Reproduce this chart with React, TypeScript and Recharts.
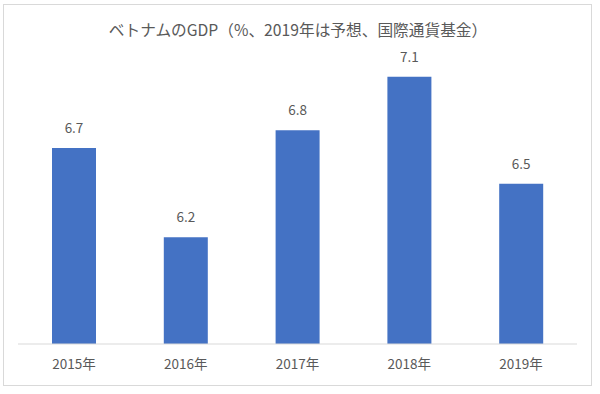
import React from "react";
import { BarChart, Bar, XAxis, YAxis, LabelList } from "recharts";

const categories = ["2015年", "2016年", "2017年", "2018年", "2019年"];
const gdpGrowth = [6.7, 6.2, 6.8, 7.1, 6.5];
const title = "ベトナムのGDP（%、2019年は予想、国際通貨基金）";

const data = categories.map((c, i) => ({ year: c, value: gdpGrowth[i] }));

const FONT = "'Noto Sans CJK JP', 'Noto Sans', sans-serif";

export default function App() {
  return (
    <div style={{ position: "absolute", left: 0, top: 0, width: 600, height: 394, background: "#fff" }}>
      <div
        style={{
          position: "absolute",
          left: 3,
          top: 4,
          width: 587,
          height: 380,
          border: "1px solid #d9d9d9",
        }}
      />
      <div
        style={{
          position: "absolute",
          left: 0,
          top: 20,
          width: 596,
          textAlign: "center",
          fontFamily: FONT,
          fontSize: 15.7,
          lineHeight: "20px",
          color: "#595959",
        }}
      >
        {title}
      </div>
      <div style={{ position: "absolute", left: 1, top: 1 }}>
        <BarChart
          width={600}
          height={394}
          data={data}
          margin={{ top: 58, right: 24, bottom: 21, left: 17 }}
          barSize={44}
        >
          <XAxis
            dataKey="year"
            axisLine={{ stroke: "#d9d9d9" }}
            tickLine={false}
            tickMargin={9}
            height={30}
            tick={{ fill: "#595959", fontSize: 13.5, fontFamily: FONT }}
          />
          <YAxis hide domain={[5.6, 7.2]} allowDataOverflow />
          <Bar dataKey="value" fill="#4472C4" isAnimationActive={false}>
            <LabelList
              dataKey="value"
              position="top"
              offset={15}
              fill="#595959"
              fontSize={13.5}
              fontFamily={FONT}
            />
          </Bar>
        </BarChart>
      </div>
    </div>
  );
}
